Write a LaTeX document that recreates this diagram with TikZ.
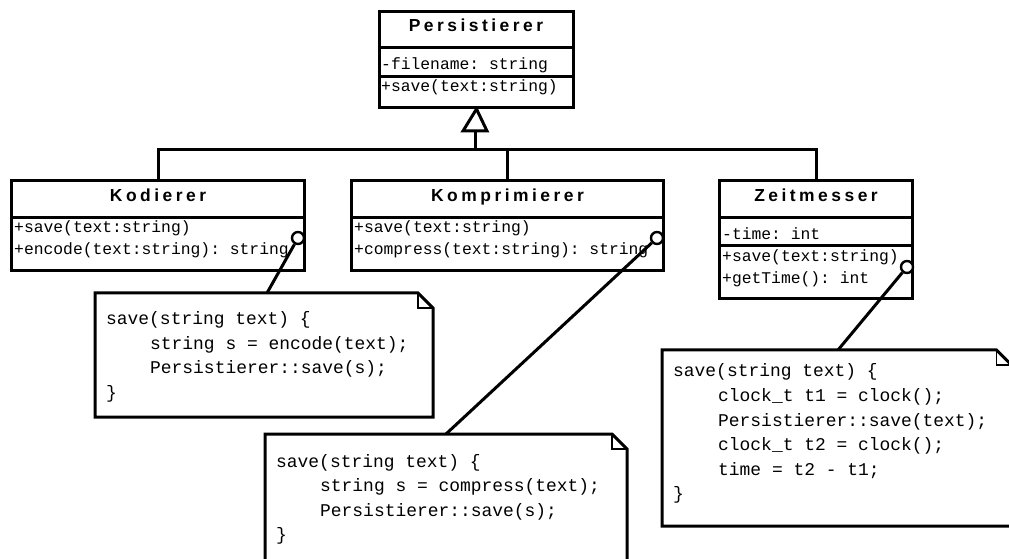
\documentclass[tikz,border=0pt]{standalone}
\usepackage{fontspec}
\setmonofont{Liberation Mono}
\newfontfamily\titlefont{Liberation Sans}[LetterSpace=20]
\begin{document}
\begin{tikzpicture}[x=1bp, y=-1bp,
  classbox/.style={draw, line width=3bp, fill=white, inner sep=0, anchor=north west},
  sepline/.style={line width=3bp},
  title/.style={font=\titlefont\bfseries\fontsize{17.5}{20}\selectfont, anchor=base, inner sep=0},
  member/.style={font=\ttfamily\fontsize{16.4}{20}\selectfont, anchor=base west, inner sep=0},
  code/.style={font=\ttfamily\fontsize{18}{24}\selectfont, anchor=base west, inner sep=0},
  link/.style={line width=3bp},
  notebox/.style={line width=3bp, fill=white},
  fold/.style={line width=1.6bp},
  pin/.style={draw, circle, fill=white, line width=2.4bp, minimum size=12bp, inner sep=0}]
\useasboundingbox (0,0) rectangle (1009,559);
\clip (0,0) rectangle (1009,559);

% ---------- base class ----------
\node[classbox, minimum width=194bp, minimum height=96bp] (per) at (378,10) {};
\draw[sepline] (per.west |- 0,48) -- (per.east |- 0,48);
\draw[sepline] (per.west |- 0,77) -- (per.east |- 0,77);
\node[title]  (perT) at (476,31.5) {Persistierer};
\node[member] (perA) at (381,70) {-filename: string};
\node[member] (perM) at (381,91.5) {+save(text:string)};

% ---------- subclasses ----------
\node[classbox, minimum width=293bp, minimum height=90bp] (kod) at (10,179) {};
\draw[sepline] (kod.west |- 0,218) -- (kod.east |- 0,218);
\node[title]  (kodT) at (kod.north |- 0,202) {Kodierer};
\node[member] (kodM1) at (14,233) {+save(text:string)};
\node[member] (kodM2) at (14,255) {+encode(text:string): string};

\node[classbox, minimum width=312bp, minimum height=90bp] (kom) at (350,179) {};
\draw[sepline] (kom.west |- 0,218) -- (kom.east |- 0,218);
\node[title]  (komT) at (kom.north |- 0,202) {Komprimierer};
\node[member] (komM1) at (354,233) {+save(text:string)};
\node[member] (komM2) at (354,255) {+compress(text:string): string};

\node[classbox, minimum width=193bp, minimum height=118bp] (zeit) at (718,179) {};
\draw[sepline] (zeit.west |- 0,218) -- (zeit.east |- 0,218);
\draw[sepline] (zeit.west |- 0,246) -- (zeit.east |- 0,246);
\node[title]  (zeitT) at (zeit.north |- 0,202) {Zeitmesser};
\node[member] (zeitA)  at (722,240) {-time: int};
\node[member] (zeitM1) at (722,262) {+save(text:string)};
\node[member] (zeitM2) at (722,283.5) {+getTime(): int};

% ---------- generalization ----------
\coordinate (gen) at (475,131);
\coordinate (bus) at (475,150);
\draw[link] (gen) -- (bus);
\draw[link] (kod.north) |- (zeit.north |- bus) -- (zeit.north);
\draw[link] (kom.north) -- (kom.north |- bus);
\draw[link, fill=white, line join=miter] (per.south) -- (487,131) -- (463,131) -- cycle;

% ---------- notes ----------
% note for Kodierer::save
\draw[notebox] (95,293) -- (418,293) -- (433,308) -- (433,417) -- (95,417) -- cycle;
\draw[fold] (418,293) -- (418,308) -- (433,308);
\coordinate (kodNote) at (267,293);
\node[code] (kc1) at (106,325)   {save(string text) \{};
\node[code] (kc2) at (150,349.5) {string s = encode(text);};
\node[code] (kc3) at (150,374)   {Persistierer::save(s);};
\node[code] (kc4) at (106,398.5) {\}};

% note for Komprimierer::save
\draw[notebox] (265,434) -- (612,434) -- (627,449) -- (627,600) -- (265,600) -- cycle;
\draw[fold] (612,434) -- (612,449) -- (627,449);
\coordinate (komNote) at (446,434);
\node[code] (mc1) at (276,467)   {save(string text) \{};
\node[code] (mc2) at (320,491.5) {string s = compress(text);};
\node[code] (mc3) at (320,516)   {Persistierer::save(s);};
\node[code] (mc4) at (276,540.5) {\}};

% note for Zeitmesser::save
\draw[notebox] (662,350) -- (996.5,350) -- (1011.5,365) -- (1011.5,526) -- (662,526) -- cycle;
\draw[fold] (996.5,350) -- (996.5,365) -- (1011.5,365);
\coordinate (zeitNote) at (838,350);
\node[code] (zc1) at (673,377)   {save(string text) \{};
\node[code] (zc2) at (718,401.5) {clock\_t t1 = clock();};
\node[code] (zc3) at (718,426)   {Persistierer::save(text);};
\node[code] (zc4) at (718,450.5) {clock\_t t2 = clock();};
\node[code] (zc5) at (718,475)   {time = t2 - t1;};
\node[code] (zc6) at (673,499.5) {\}};

% ---------- note attachments ----------
\node[pin] (kodPin)  at (298,238) {};
\node[pin] (komPin)  at (657,238) {};
\node[pin] (zeitPin) at (907,267) {};
\draw[link] (kodPin) -- (kodNote);
\draw[link] (komPin) -- (komNote);
\draw[link] (zeitPin) -- (zeitNote);
\end{tikzpicture}
\end{document}
